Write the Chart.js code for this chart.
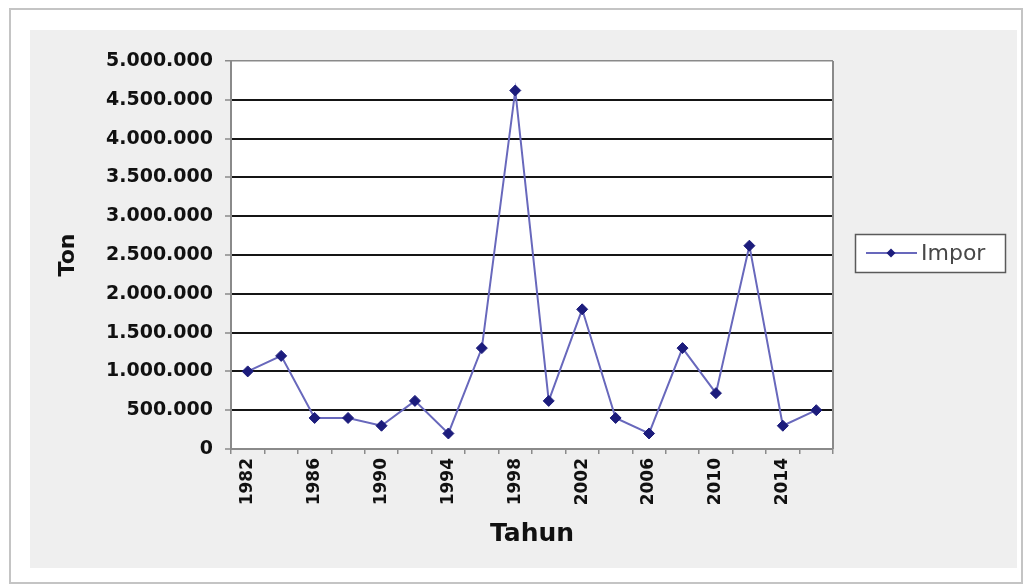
<!DOCTYPE html>
<html>
<head>
<meta charset="utf-8">
<title>Impor</title>
<script src="https://cdn.jsdelivr.net/npm/chart.js@4/dist/chart.umd.min.js"></script>
<style>
  html, body { margin: 0; padding: 0; background: #ffffff; }
  #wrap { width: 1028px; height: 585px; }
  canvas { display: block; }
</style>
</head>
<body>
<div id="wrap"><canvas id="c" width="1028" height="585"></canvas></div>
<script>
// Yearly import volume (tonnes), one value every two years
const years = ['1982', '1984', '1986', '1988', '1990', '1992', '1994', '1996', '1998',
               '2000', '2002', '2004', '2006', '2008', '2010', '2012', '2014', '2016'];
const impor = [1000000, 1200000, 400000, 400000, 300000, 620000, 200000, 1300000, 4620000,
               620000, 1800000, 400000, 200000, 1300000, 720000, 2620000, 300000, 500000];
const seriesName = 'Impor';
const yTitle = 'Ton';
const xTitle = 'Tahun';
const yMax = 5000000;
const yStep = 500000;

const LINE = '#6868bc';
const MARK = '#1c1c7c';
const AXIS = '#8a8a8a';

// 5000000 -> "5.000.000"
function dotted(v) {
  return String(Math.round(v)).replace(/\B(?=(\d{3})+(?!\d))/g, '.');
}

// Frame, grey backdrop and white plot area
const backdrop = {
  id: 'backdrop',
  beforeDraw(chart) {
    const { ctx, chartArea: a, width, height } = chart;
    ctx.save();
    ctx.fillStyle = '#ffffff';
    ctx.fillRect(0, 0, width, height);
    ctx.strokeStyle = '#c4c4c4';
    ctx.lineWidth = 2;
    ctx.strokeRect(10, 9, 1012, 574);
    ctx.fillStyle = '#efefef';
    ctx.fillRect(30, 30, 987, 538);
    ctx.fillStyle = '#ffffff';
    ctx.fillRect(a.left, a.top, a.right - a.left, a.bottom - a.top);
    ctx.restore();
  },
  beforeDatasetsDraw(chart) {
    const { ctx, chartArea: a } = chart;
    ctx.save();
    ctx.strokeStyle = AXIS;
    ctx.lineWidth = 2;
    ctx.beginPath();
    ctx.moveTo(a.right, a.top);
    ctx.lineTo(a.right, a.bottom);
    ctx.stroke();
    ctx.restore();
  }
};

// Boxed legend on the right: line with a diamond marker, then the series name
const boxLegend = {
  id: 'boxLegend',
  afterDraw(chart) {
    const { ctx } = chart;
    const ds = chart.data.datasets[0];
    const bx = 855, by = 234, bw = 150, bh = 38;
    const cy = by + bh / 2;
    ctx.save();
    ctx.fillStyle = '#ffffff';
    ctx.fillRect(bx, by, bw, bh);
    ctx.strokeStyle = '#5a5a5a';
    ctx.lineWidth = 1.5;
    ctx.strokeRect(bx + 0.5, by + 0.5, bw, bh);
    ctx.strokeStyle = ds.borderColor;
    ctx.lineWidth = 2;
    ctx.beginPath();
    ctx.moveTo(866, cy);
    ctx.lineTo(917, cy);
    ctx.stroke();
    const r = 4.5, mx = 891;
    ctx.fillStyle = ds.pointBackgroundColor;
    ctx.beginPath();
    ctx.moveTo(mx, cy - r);
    ctx.lineTo(mx + r, cy);
    ctx.lineTo(mx, cy + r);
    ctx.lineTo(mx - r, cy);
    ctx.closePath();
    ctx.fill();
    ctx.fillStyle = '#474747';
    ctx.font = '22px "DejaVu Sans"';
    ctx.textBaseline = 'middle';
    ctx.textAlign = 'left';
    ctx.fillText(ds.label, 921, cy + 1);
    ctx.restore();
  }
};

new Chart(document.getElementById('c'), {
  type: 'line',
  data: {
    labels: years,
    datasets: [{
      label: seriesName,
      data: impor,
      borderColor: LINE,
      borderWidth: 2,
      tension: 0,
      fill: false,
      pointStyle: 'rectRot',
      pointRadius: 5.5,
      pointBackgroundColor: MARK,
      pointBorderColor: MARK,
      pointBorderWidth: 1
    }]
  },
  options: {
    responsive: false,
    animation: false,
    events: [],
    layout: { padding: { top: 61, right: 195, left: 0, bottom: 0 } },
    plugins: {
      legend: { display: false },
      tooltip: { enabled: false }
    },
    scales: {
      x: {
        type: 'category',
        offset: true,
        afterFit(scale) { scale.height = 136; },
        border: { display: true, color: AXIS, width: 2 },
        grid: {
          offset: true,
          drawOnChartArea: false,
          drawTicks: true,
          tickLength: 5,
          color: AXIS,
          tickColor: AXIS,
          lineWidth: 1.5
        },
        ticks: {
          autoSkip: false,
          minRotation: 90,
          maxRotation: 90,
          padding: 4,
          color: '#111111',
          font: { family: '"DejaVu Sans"', size: 17, weight: 'bold' },
          callback: (v, i) => (i % 2 === 0 ? years[i] : '')
        },
        title: {
          display: true,
          text: xTitle,
          color: '#111111',
          font: { family: '"DejaVu Sans"', size: 25, weight: 'bold' },
          padding: { top: 0, bottom: 36 }
        }
      },
      y: {
        min: 0,
        max: yMax,
        afterFit(scale) { scale.width = 231; },
        border: { display: true, color: AXIS, width: 2 },
        grid: {
          drawTicks: true,
          tickLength: 6,
          tickColor: AXIS,
          tickWidth: 1.5,
          color: (c) => (c.tick && (c.tick.value === 0 || c.tick.value === yMax) ? AXIS : '#151515'),
          lineWidth: (c) => (c.tick && c.tick.value === yMax ? 1.5 : 2)
        },
        ticks: {
          stepSize: yStep,
          padding: 12,
          color: '#111111',
          font: { family: '"DejaVu Sans"', size: 19, weight: 'bold' },
          callback: (v) => dotted(v)
        },
        title: {
          display: true,
          text: yTitle,
          color: '#111111',
          font: { family: '"DejaVu Sans"', size: 22, weight: 'bold' },
          padding: { top: 55, bottom: 0 }
        }
      }
    }
  },
  plugins: [backdrop, boxLegend]
});
</script>
</body>
</html>
